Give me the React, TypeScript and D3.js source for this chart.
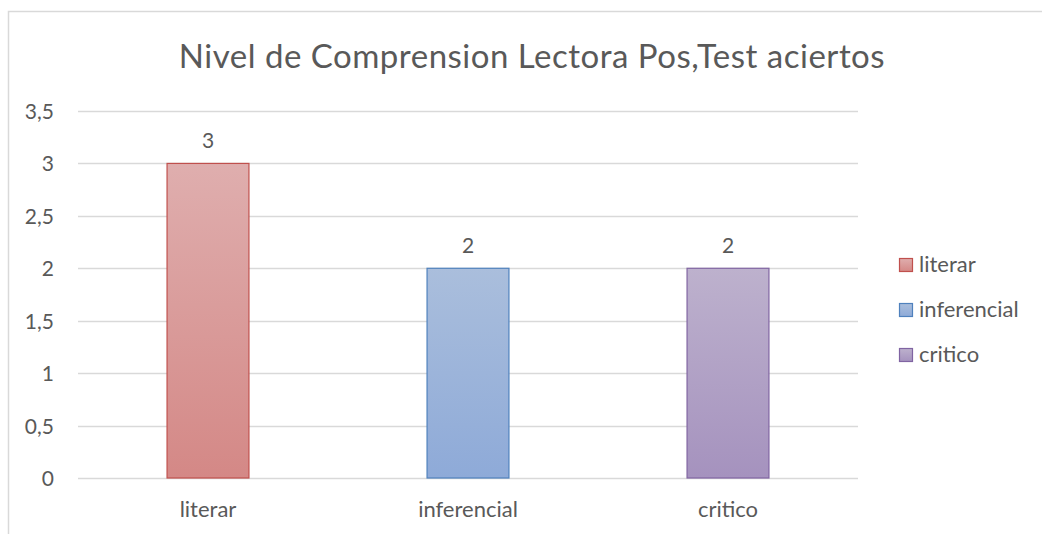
import * as React from "react";
import * as d3 from "d3";

const categories = ["literar", "inferencial", "critico"];
const values = [3, 2, 2];
const yTicks = [0, 0.5, 1, 1.5, 2, 2.5, 3, 3.5];
const title = "Nivel de Comprension Lectora Pos,Test aciertos";

const fills = [
  { top: "#dfaeae", bottom: "#d48886", stroke: "#c0504d" },
  { top: "#aabedc", bottom: "#8eaad8", stroke: "#4f81bd" },
  { top: "#bdb1cd", bottom: "#a592be", stroke: "#8064a2" },
];

const W = 1042;
const H = 534;
const font = "Lato, 'Open Sans', sans-serif";
const textColor = "#595959";

const App = () => {
  const x = d3.scaleBand().domain(categories).range([78, 858]).paddingInner(0.685).paddingOuter(0.3425);
  const y = d3.scaleLinear().domain([0, 3.5]).range([478, 111]);
  const fmt = (v: number) => String(v).replace(".", ",");

  return (
    <svg width={W} height={H} style={{ position: "absolute", left: 0, top: 0 }} fontFamily={font}>
      <defs>
        {fills.map((f, i) => (
          <linearGradient key={i} id={`g${i}`} x1="0" y1="0" x2="0" y2="1">
            <stop offset="0" stopColor={f.top} />
            <stop offset="1" stopColor={f.bottom} />
          </linearGradient>
        ))}
      </defs>
      <rect x={0} y={0} width={W} height={H} fill="#fff" />
      <rect x={8.5} y={11.5} width={W + 20} height={H + 20} fill="#fff" stroke="#d9d9d9" strokeWidth={1.5} />
      <text x={532} y={68} textAnchor="middle" fontSize={33} letterSpacing={0.5} fill={textColor}>
        {title}
      </text>
      {yTicks.map(t => (
        <g key={t}>
          <line x1={78} x2={858} y1={Math.round(y(t)) + 0.5} y2={Math.round(y(t)) + 0.5} stroke="#d9d9d9" strokeWidth={1.5} />
          <text x={54} y={y(t) + 8} textAnchor="end" fontSize={21} fill={textColor}>
            {fmt(t)}
          </text>
        </g>
      ))}
      {categories.map((c, i) => {
        const x0 = x(c)!;
        const bw = x.bandwidth();
        const yv = y(values[i]);
        return (
          <g key={c}>
            <rect x={x0} y={yv} width={bw} height={y(0) - yv} fill={`url(#g${i})`} stroke={fills[i].stroke} strokeWidth={1.2} />
            <text x={x0 + bw / 2} y={yv - 15} textAnchor="middle" fontSize={21} fill={textColor}>
              {values[i]}
            </text>
            <text x={x0 + bw / 2} y={517} textAnchor="middle" fontSize={22} fill={textColor}>
              {c}
            </text>
          </g>
        );
      })}
      {categories.map((c, i) => {
        const ly = 265 + i * 45;
        return (
          <g key={c}>
            <rect x={899.5} y={ly - 6.5} width={13} height={13} fill={`url(#g${i})`} stroke={fills[i].stroke} strokeWidth={1.2} />
            <text x={919} y={ly + 7} fontSize={22} fill={textColor}>
              {c}
            </text>
          </g>
        );
      })}
    </svg>
  );
};

export default App;
